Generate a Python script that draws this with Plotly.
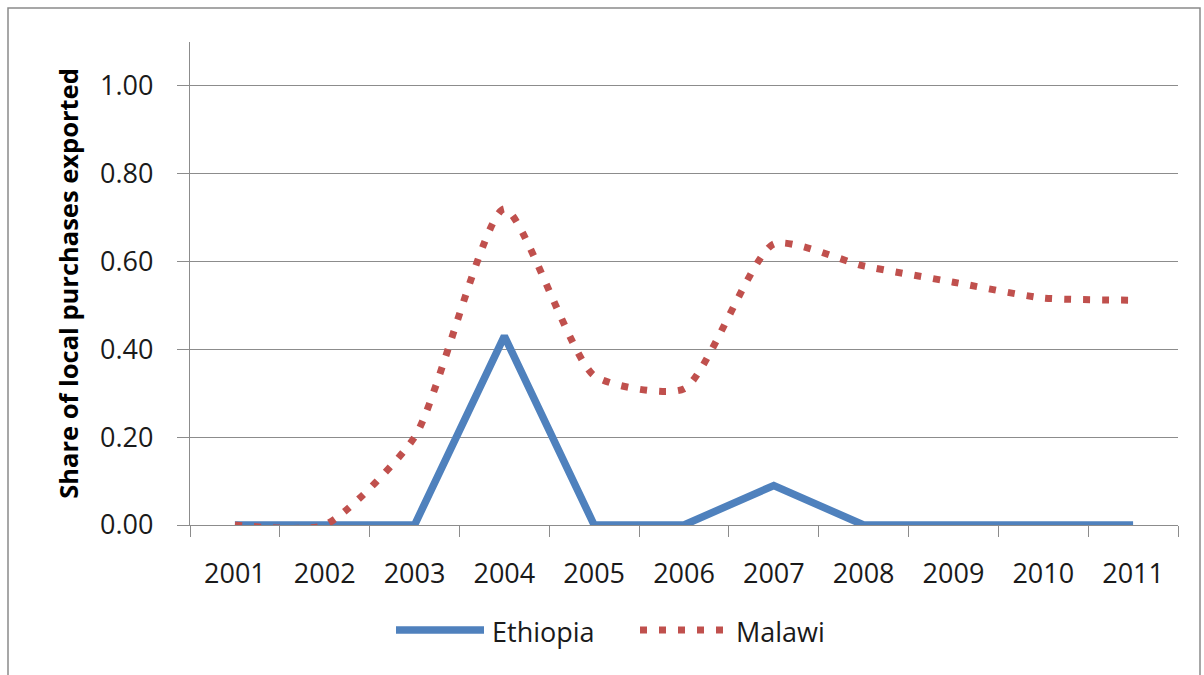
import plotly.graph_objects as go

years = ["2001", "2002", "2003", "2004", "2005", "2006",
         "2007", "2008", "2009", "2010", "2011"]
ethiopia = [0.0, 0.0, 0.0, 0.43, 0.0, 0.0, 0.09, 0.0, 0.0, 0.0, 0.0]
malawi = [0.0, 0.0, 0.20, 0.72, 0.34, 0.31, 0.64, 0.59, 0.553, 0.517, 0.512]
y_ticks = [0.0, 0.2, 0.4, 0.6, 0.8, 1.0]
y_tick_text = ["0.00", "0.20", "0.40", "0.60", "0.80", "1.00"]

BLUE = "#4F81BD"
RED = "#C0504D"
GRID = "#8c8c8c"
TEXT = "#1a1a1a"
FONT = "Open Sans"

# plot-area pixel geometry (used to place the hand-built legend and frame)
W, H = 1204, 675
L, R, T, B = 190, 26, 42, 150
PW, PH = W - L - R, H - T - B


def px_x(x):
    return (x - L) / PW


def px_y(y):
    return (H - B - y) / PH


fig = go.Figure()
fig.add_trace(go.Scatter(
    x=years, y=ethiopia, mode="lines", name="Ethiopia",
    line=dict(color=BLUE, width=7.5), showlegend=False,
))
fig.add_trace(go.Scatter(
    x=years, y=malawi, mode="lines", name="Malawi",
    line=dict(color=RED, width=7, dash="7px,12px", shape="spline", smoothing=0.6),
    showlegend=False,
))

shapes = [
    # outer chart frame
    dict(type="rect", xref="paper", yref="paper",
         x0=px_x(8), x1=px_x(1200), y0=px_y(700), y1=px_y(8),
         line=dict(color="#8a8a8a", width=1.5), layer="below"),
    # legend keys
    dict(type="line", xref="paper", yref="paper",
         x0=px_x(396), x1=px_x(484), y0=px_y(630), y1=px_y(630),
         line=dict(color=BLUE, width=7.5)),
    dict(type="line", xref="paper", yref="paper",
         x0=px_x(640), x1=px_x(730), y0=px_y(630), y1=px_y(630),
         line=dict(color=RED, width=7, dash="7px,12px")),
]

annotations = [
    dict(text="Ethiopia", xref="paper", yref="paper",
         x=px_x(490), y=px_y(631), xanchor="left", yanchor="middle",
         showarrow=False, font=dict(family=FONT, size=27, color=TEXT)),
    dict(text="Malawi", xref="paper", yref="paper",
         x=px_x(734), y=px_y(631), xanchor="left", yanchor="middle",
         showarrow=False, font=dict(family=FONT, size=27, color=TEXT)),
]

fig.update_layout(
    width=W, height=H,
    margin=dict(l=L, r=R, t=T, b=B),
    paper_bgcolor="white", plot_bgcolor="white",
    font=dict(family=FONT, size=27, color=TEXT),
    shapes=shapes, annotations=annotations,
    xaxis=dict(
        type="category", range=[-0.5, 10.5],
        showline=True, linecolor=GRID, linewidth=1.2,
        ticks="outside", tickson="boundaries", ticklen=11,
        tickcolor=GRID, tickwidth=1.2,
        showgrid=False, zeroline=False,
        tickfont=dict(family=FONT, size=27, color=TEXT),
        ticklabelstandoff=24,
    ),
    yaxis=dict(
        range=[0, 1.1], tickvals=y_ticks, ticktext=y_tick_text,
        showline=True, linecolor=GRID, linewidth=1.2,
        ticks="outside", ticklen=12, tickcolor=GRID, tickwidth=1.2,
        showgrid=True, gridcolor=GRID, gridwidth=1.2,
        zeroline=False,
        tickfont=dict(family=FONT, size=27, color=TEXT),
        ticklabelstandoff=18,
        title=dict(text="<b>Share of local purchases exported</b>",
                   font=dict(family=FONT, size=25.5, color="#000000"),
                   standoff=14),
    ),
)

fig.write_html("out.html")
